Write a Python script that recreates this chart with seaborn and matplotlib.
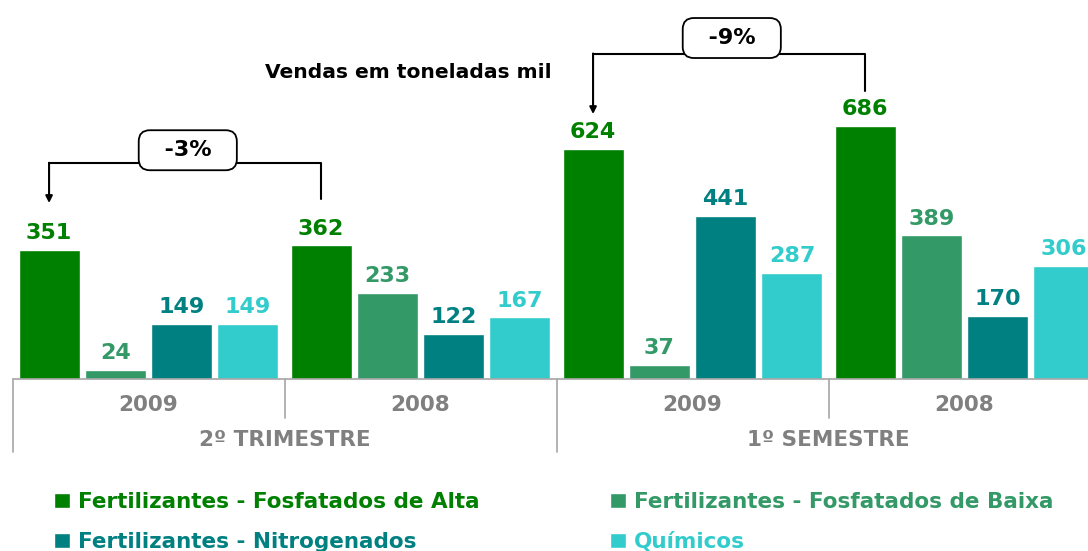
import pandas as pd
import numpy as np
import matplotlib.pyplot as plt
import seaborn as sns

# dados (vendas em toneladas mil)
periodos = ["2º TRIMESTRE", "1º SEMESTRE"]
anos = ["2009", "2008"]
produtos = ["Fertilizantes - Fosfatados de Alta", "Fertilizantes - Fosfatados de Baixa",
            "Fertilizantes - Nitrogenados", "Químicos"]
alta = [351, 362, 624, 686]
baixa = [24, 233, 37, 389]
nitro = [149, 122, 441, 170]
quimicos = [149, 167, 287, 306]
variacoes = ["-3%", "-9%"]

cores = ["#008000", "#339966", "#008080", "#33CCCC"]
cinza = "#808080"

grupos = [p + " " + a for p in periodos for a in anos]
df = pd.DataFrame({"grupo": grupos, produtos[0]: alta, produtos[1]: baixa,
                   produtos[2]: nitro, produtos[3]: quimicos})
df_long = df.melt(id_vars="grupo", var_name="produto", value_name="valor")

sns.set_theme(style="white")
plt.rcParams["font.family"] = ["DejaVu Sans"]
plt.rcParams["font.weight"] = "bold"

fig = plt.figure(figsize=(10.88, 5.51), dpi=100)
ax = fig.add_axes([0, 0.312, 1, 0.688])

sns.barplot(data=df_long, x="grupo", y="valor", hue="produto", order=grupos,
            hue_order=produtos, palette=cores, width=0.975, gap=0.08,
            saturation=1, ax=ax, legend=True)

ax.set_xlim(-0.546, 3.454)
ax.set_ylim(0, 1027)
for s in ax.spines.values():
    s.set_visible(False)
ax.set_xticks([])
ax.set_yticks([])
ax.set_xlabel("")
ax.set_ylabel("")

# rotulos de valores
for cont, cor in zip(ax.containers, cores):
    ax.bar_label(cont, fmt="%d", padding=5, color=cor, fontsize=16, fontweight="bold")

# eixo de categorias
trans = ax.get_xaxis_transform()
ax.plot([-0.5, 3.6], [0, 0], color="#A6A6A6", lw=1.2, transform=trans, clip_on=False)
for x in [-0.5, 1.5, 3.5]:
    ax.plot([x, x], [0, -0.193], color="#A6A6A6", lw=1.2, transform=trans, clip_on=False)
for x in [0.5, 2.5]:
    ax.plot([x, x], [0, -0.103], color="#A6A6A6", lw=1.2, transform=trans, clip_on=False)
for i, g in enumerate(grupos):
    ax.text(i, -0.069, anos[i % 2], transform=trans, ha="center", va="center",
            color=cinza, fontsize=15.5, fontweight="bold")
for j, p in enumerate(periodos):
    ax.text(2 * j + 0.5, -0.161, p, transform=trans, ha="center", va="center",
            color=cinza, fontsize=15.5, fontweight="bold")

# chaves de variacao
barras = ax.containers[0]
niveis = [(585, 477, 488, 620), (881, 718, 780, 924)]
for j, (yl, ya, yb, yt) in enumerate(niveis):
    p0 = barras[2 * j]
    p1 = barras[2 * j + 1]
    x0 = p0.get_x() + p0.get_width() / 2
    x1 = p1.get_x() + p1.get_width() / 2
    ax.plot([x1, x1, x0], [yb, yl, yl], color="black", lw=1.5)
    ax.annotate("", xy=(x0, ya), xytext=(x0, yl + 1),
                arrowprops=dict(arrowstyle="-|>", color="black", lw=1.5,
                                mutation_scale=10, shrinkA=0, shrinkB=0))
    ax.text((x0 + x1) / 2 + 0.01, yt, "  " + variacoes[j] + "  ", ha="center", va="center",
            fontsize=16, fontweight="bold", color="black",
            bbox=dict(boxstyle="round,pad=0.45,rounding_size=0.5", fc="white",
                      ec="black", lw=1.3))

fig.text(0.2435, 0.869, "Vendas em toneladas mil", ha="left", va="center",
         fontsize=14.6, fontweight="bold", color="black")

# legenda
h, l = ax.get_legend_handles_labels()
ax.get_legend().remove()
ordem = [0, 2, 1, 3]
leg = fig.legend([h[i] for i in ordem], [l[i] for i in ordem], ncol=2,
                 loc="upper left", bbox_to_anchor=(0.0497, 0.107), frameon=False,
                 fontsize=15.5, handlelength=0.75, handleheight=0.75,
                 handletextpad=0.35, columnspacing=6.08, labelspacing=0.93,
                 borderpad=0, borderaxespad=0)
for txt, i in zip(leg.get_texts(), ordem):
    txt.set_color(cores[i])
    txt.set_fontweight("bold")

fig.savefig("out.png", dpi=100)
